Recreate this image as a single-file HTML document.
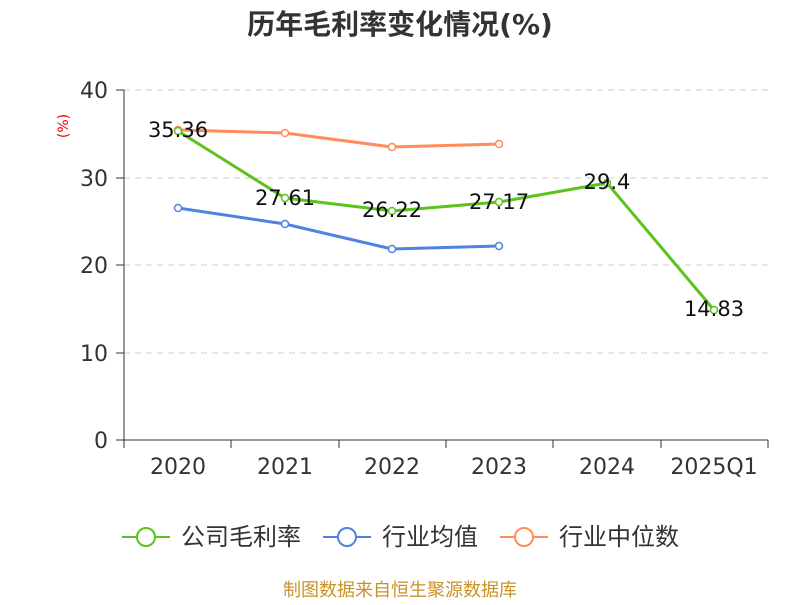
<!DOCTYPE html>
<html><head><meta charset="utf-8"><style>
body{margin:0;background:#fff;}
svg text{font-family:"DejaVu Sans","Noto Sans CJK SC",sans-serif;}
</style></head><body>
<svg width="800" height="600" xmlns="http://www.w3.org/2000/svg">
<text x="400" y="34" text-anchor="middle" font-size="28" font-weight="bold" fill="#333">历年毛利率变化情况(%)</text>
<text x="68" y="126" font-size="14" fill="#e00" transform="rotate(-90 68 126)" text-anchor="middle">(%)</text>
<g stroke="#ccc" stroke-dasharray="6,5" stroke-width="1">
<line x1="124" y1="90" x2="768" y2="90"/><line x1="124" y1="178" x2="768" y2="178"/>
<line x1="124" y1="265" x2="768" y2="265"/><line x1="124" y1="353" x2="768" y2="353"/>
</g>
<g stroke="#333" stroke-width="1">
<line x1="124" y1="90" x2="124" y2="440"/><line x1="124" y1="440" x2="768" y2="440"/>
<line x1="116" y1="90" x2="124" y2="90"/><line x1="116" y1="178" x2="124" y2="178"/><line x1="116" y1="265" x2="124" y2="265"/><line x1="116" y1="353" x2="124" y2="353"/><line x1="116" y1="440" x2="124" y2="440"/>
<line x1="124" y1="440" x2="124" y2="448"/><line x1="231" y1="440" x2="231" y2="448"/><line x1="339" y1="440" x2="339" y2="448"/><line x1="446" y1="440" x2="446" y2="448"/><line x1="553" y1="440" x2="553" y2="448"/><line x1="661" y1="440" x2="661" y2="448"/><line x1="768" y1="440" x2="768" y2="448"/>
</g>
<g font-size="22" fill="#333" text-anchor="end">
<text x="108" y="98">40</text><text x="108" y="186">30</text><text x="108" y="273">20</text><text x="108" y="361">10</text><text x="108" y="448">0</text>
</g>
<g font-size="22" fill="#333" text-anchor="middle">
<text x="178" y="474">2020</text><text x="285" y="474">2021</text><text x="392" y="474">2022</text><text x="499" y="474">2023</text><text x="607" y="474">2024</text><text x="714" y="474">2025Q1</text>
</g>
<g fill="none" stroke-width="3">
<polyline stroke="#4e83e0" points="178,208 285,224 392,249 499,246"/>
<polyline stroke="#ff8c5a" points="178,130 285,133 392,147 499,144"/>
<polyline stroke="#5cc31a" points="178,131 285,198 392,211 499,202 607,183 714,310"/>
</g>
<g fill="#fff" stroke-width="1.5">
<g stroke="#4e83e0"><circle cx="178" cy="208" r="3.5"/><circle cx="285" cy="224" r="3.5"/><circle cx="392" cy="249" r="3.5"/><circle cx="499" cy="246" r="3.5"/></g>
<g stroke="#ff8c5a"><circle cx="178" cy="130" r="3.5"/><circle cx="285" cy="133" r="3.5"/><circle cx="392" cy="147" r="3.5"/><circle cx="499" cy="144" r="3.5"/></g>
<g stroke="#5cc31a"><circle cx="178" cy="131" r="3.5"/><circle cx="285" cy="198" r="3.5"/><circle cx="392" cy="211" r="3.5"/><circle cx="499" cy="202" r="3.5"/><circle cx="607" cy="183" r="3.5"/><circle cx="714" cy="310" r="3.5"/></g>
</g>
<g font-size="21" fill="#111" text-anchor="middle">
<text x="178" y="137">35.36</text><text x="285" y="205">27.61</text><text x="392" y="217">26.22</text><text x="499" y="209">27.17</text><text x="607" y="189">29.4</text><text x="714" y="316">14.83</text>
</g>
<g stroke-width="2" fill="#fff">
<line x1="122" y1="537" x2="170" y2="537" stroke="#5cc31a"/><circle cx="146" cy="537" r="9" stroke="#5cc31a"/>
<line x1="323" y1="537" x2="371" y2="537" stroke="#4e83e0"/><circle cx="347" cy="537" r="9" stroke="#4e83e0"/>
<line x1="500" y1="537" x2="548" y2="537" stroke="#ff8c5a"/><circle cx="524" cy="537" r="9" stroke="#ff8c5a"/>
</g>
<g font-size="24" fill="#333">
<text x="181" y="545">公司毛利率</text><text x="382" y="545">行业均值</text><text x="559" y="545">行业中位数</text>
</g>
<text x="400" y="596" text-anchor="middle" font-size="18" fill="#c8922a">制图数据来自恒生聚源数据库</text>
</svg>
</body></html>
